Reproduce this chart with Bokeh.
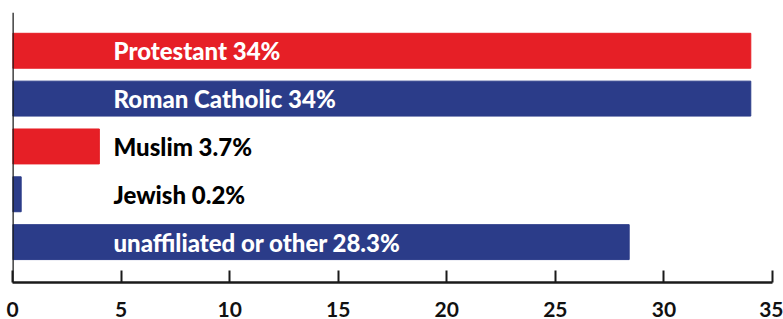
from bokeh.plotting import figure
from bokeh.models import ColumnDataSource, Range1d, FixedTicker, Span
from bokeh.embed import file_html
from bokeh.resources import INLINE
from bokeh.core.properties import value

# ---- data ----
categories = ["Protestant", "Roman Catholic", "Muslim", "Jewish", "unaffiliated or other"]
percent_labels = ["34%", "34%", "3.7%", "0.2%", "28.3%"]
bar_values = [34, 34, 4.0, 0.4, 28.4]          # bar lengths as drawn
bar_colors = ["#E61F26", "#2B3C89", "#E61F26", "#2B3C89", "#2B3C89"]
label_colors = ["white", "white", "black", "black", "white"]
x_ticks = [0, 5, 10, 15, 20, 25, 30, 35]

n = len(categories)
ypos = [n - 1 - i for i in range(n)]
texts = [f"{c} {p}" for c, p in zip(categories, percent_labels)]

y_start, y_end = -0.844, n - 1 + 0.80

src = ColumnDataSource(dict(y=ypos, v=bar_values, color=bar_colors,
                            text=texts, tcolor=label_colors, x0=[0] * n))

p = figure(width=783, height=319, output_backend="svg", toolbar_location=None,
           x_range=Range1d(0, 35), y_range=Range1d(y_start, y_end),
           min_border_left=12, min_border_right=11, min_border_top=12, min_border_bottom=36)
p.outline_line_color = None
p.xgrid.visible = False
p.ygrid.visible = False
p.yaxis.visible = False

p.hbar(y="y", left=0, right="v", height=0.73, color="color", source=src)
p.text(x="x0", y="y", text="text", source=src, x_offset=101,
       text_color="tcolor", text_font=value("Lato Black"),
       text_font_style="normal", text_font_size="24px", text_baseline="middle")

p.add_layout(Span(location=0, dimension="height", line_color="#1a1a1a", line_width=2.5))

ax = p.xaxis[0]
ax.ticker = FixedTicker(ticks=x_ticks)
ax.axis_line_color = "#1a1a1a"
ax.axis_line_width = 2.5
ax.major_tick_line_color = "#1a1a1a"
ax.major_tick_line_width = 2
ax.major_tick_in = 12
ax.major_tick_out = 0
ax.minor_tick_line_color = None
ax.major_label_text_font = "Lato"
ax.major_label_text_font_style = "bold"
ax.major_label_text_font_size = "21px"
ax.major_label_text_color = "#111111"
ax.major_label_standoff = 19

open("out.html", "w").write(file_html(p, INLINE))
